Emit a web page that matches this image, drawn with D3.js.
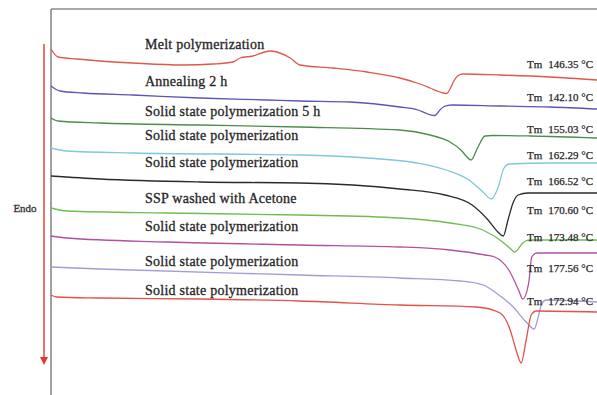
<!DOCTYPE html>
<html>
<head>
<meta charset="utf-8">
<script src="https://cdn.jsdelivr.net/npm/d3@7"></script>
<style>
  html, body { margin: 0; padding: 0; background: #fff; }
  svg { display: block; }
  text { font-family: "Liberation Serif", "Times New Roman", serif; }
</style>
</head>
<body>
<svg id="chart" width="597" height="395"></svg>
<script>
// DSC heating scans: [temperature °C, heat flow (a.u., endo down, curves stacked)]
const curveMelt = [[5,34.4],[7.5,33.6],[14.3,33.4],[22.5,33.2],[34.3,33.0],[52.1,32.8],[62.9,32.9],[70,33.1],[72.5,33.5],[77.1,33.7],[83.2,34.2],[85.7,34.1],[90.4,33.5],[93.9,32.8],[105.7,32.5],[117.9,32.1],[129.6,31.5],[135.7,31.0],[140.4,30.5],[143.9,30.1],[146.35,29.95],[147.5,30.4],[148.9,31.2],[150.4,31.75],[152.1,31.9],[165.4,31.8],[183.2,31.6],[200,31.3]];
const curveAnneal = [[5,30.7],[8.2,30.2],[16.4,30.0],[34.3,29.8],[58.2,29.5],[82.1,29.3],[93.9,29.2],[111.8,29.1],[129.6,28.6],[136.1,28.3],[139.6,27.9],[142.1,27.75],[143.9,28.3],[145.4,28.65],[148.2,28.8],[165.4,28.7],[183.2,28.6],[200,28.4]];
const curveSSP5h = [[5,27.5],[7.5,27.2],[22.5,27.0],[58.2,26.8],[93.9,26.6],[129.6,26.3],[140.4,25.8],[147.5,25.1],[151.4,24.3],[153.6,23.6],[155.03,23.3],[157.5,24.6],[160,25.7],[162.5,25.75],[176.1,25.7],[200,25.5]];
const curveSSPa = [[5,24.5],[10.7,24.2],[34.3,24.0],[93.9,23.8],[117.9,23.5],[135.7,23.0],[146.1,22.3],[154.3,21.3],[159.3,20.1],[162.29,19.4],[164.6,20.5],[166.8,22.5],[168.6,22.9],[183.2,23.0],[200,23.0]];
const curveSSPb = [[5,21.7],[22.5,21.4],[58.2,21.1],[93.9,21.0],[129.6,20.4],[145.7,19.8],[155.4,18.8],[161.1,17.3],[164.6,16.1],[166.52,15.7],[168.2,17.3],[170,19.0],[171.8,19.8],[175.4,20.0],[200,20.0]];
const curveAcetone = [[5,18.5],[10.7,18.2],[46.4,18.0],[93.9,17.8],[129.6,17.5],[147.5,17.0],[159.2,16.3],[166.3,15.1],[169.2,14.4],[170.6,14.1],[173.5,15.0],[174.5,15.2],[176.1,15.3],[200,15.3]];
const curveSSPc = [[5,15.7],[10.7,15.5],[46.4,15.1],[93.9,14.8],[129.6,14.6],[147.5,14.3],[160,13.8],[163.5,13.6],[168.5,12.3],[172,10.3],[173.48,9.4],[175.6,11.0],[176.7,13.6],[178.5,14.0],[200,14.0]];
const curveSSPd = [[5,12.6],[22.5,12.4],[93.9,11.8],[129.6,11.5],[151.1,11.2],[159.4,10.8],[164,10.0],[170.1,8.6],[174.7,7.1],[177.56,6.4],[179,7.6],[180.1,8.8],[181.9,9.3],[200,9.1]];
const curveSSPe = [[5,9.8],[7.1,9.6],[22.5,9.5],[58.2,9.4],[93.9,9.2],[129.6,8.8],[156.9,8.6],[165.4,8.0],[169,6.3],[171.1,4.3],[172.94,3.0],[174.7,5.3],[176.5,7.8],[178.3,8.2],[200,8.1]];

const sampleNames = [
  "Melt polymerization",
  "Annealing 2 h",
  "Solid state polymerization 5 h",
  "Solid state polymerization",
  "Solid state polymerization",
  "SSP washed with Acetone",
  "Solid state polymerization",
  "Solid state polymerization",
  "Solid state polymerization"
];
const meltTemps = [146.35, 142.10, 155.03, 162.29, 166.52, 170.60, 173.48, 177.56, 172.94];

const curves = [curveMelt, curveAnneal, curveSSP5h, curveSSPa, curveSSPb, curveAcetone, curveSSPc, curveSSPd, curveSSPe];

// styling / layout
const colors = ["#e0574d", "#5a55b6", "#4e8c4c", "#80c6de", "#2a2a2a", "#6cbd55", "#b1519e", "#a39bd6", "#e2514a"];
const nameBaselines = [49, 86, 116, 140, 167, 203, 231, 266, 295];
const tmBaselines = [68, 101, 133, 159, 185, 214, 241, 272, 305];

const W = 597, H = 395;
const svg = d3.select("#chart");

const x = d3.scaleLinear().domain([5, 200]).range([51, 597]);
const y = d3.scaleLinear().domain([0, 38.4]).range([393, 9]);

// frame: top border and left axis
svg.append("line").attr("x1", 51).attr("x2", W).attr("y1", 9).attr("y2", 9)
  .attr("stroke", "#8c8c8c").attr("stroke-width", 1.5);
svg.append("line").attr("x1", 51).attr("x2", 51).attr("y1", 9).attr("y2", H)
  .attr("stroke", "#6e6e6e").attr("stroke-width", 1.3);

// endotherm direction arrow
svg.append("line").attr("x1", 44).attr("x2", 44).attr("y1", 44).attr("y2", 359)
  .attr("stroke", "#e23a2c").attr("stroke-width", 1.4);
svg.append("path").attr("d", "M40,357 L48,357 L44,365 Z").attr("fill", "#e23a2c");
svg.append("text").attr("x", 25).attr("y", 212).attr("text-anchor", "middle")
  .attr("font-size", 11).attr("fill", "#333")
  .attr("stroke", "#333").attr("stroke-width", 0.3).text("Endo");

const line = d3.line()
  .x(d => x(d[0]))
  .y(d => y(d[1]))
  .curve(d3.curveMonotoneX);

svg.append("g").selectAll("path")
  .data(curves)
  .join("path")
  .attr("d", line)
  .attr("fill", "none")
  .attr("stroke", (d, i) => colors[i])
  .attr("stroke-width", 1.3)
  .attr("stroke-linejoin", "round");

// sample labels
svg.append("g").selectAll("text")
  .data(sampleNames)
  .join("text")
  .attr("x", 145)
  .attr("y", (d, i) => nameBaselines[i])
  .attr("font-size", 14)
  .attr("letter-spacing", 0.25)
  .attr("fill", "#262626")
  .attr("stroke", "#262626")
  .attr("stroke-width", 0.3)
  .text(d => d);

// melting temperature labels
const tm = svg.append("g").selectAll("text")
  .data(meltTemps)
  .join("text")
  .attr("x", 527)
  .attr("y", (d, i) => tmBaselines[i])
  .attr("font-size", 11)
  .attr("fill", "#262626")
  .attr("stroke", "#262626")
  .attr("stroke-width", 0.25);
tm.append("tspan").text("Tm");
tm.append("tspan").attr("dx", 6).text(d => d.toFixed(2) + " \u00B0C");
</script>
</body>
</html>
